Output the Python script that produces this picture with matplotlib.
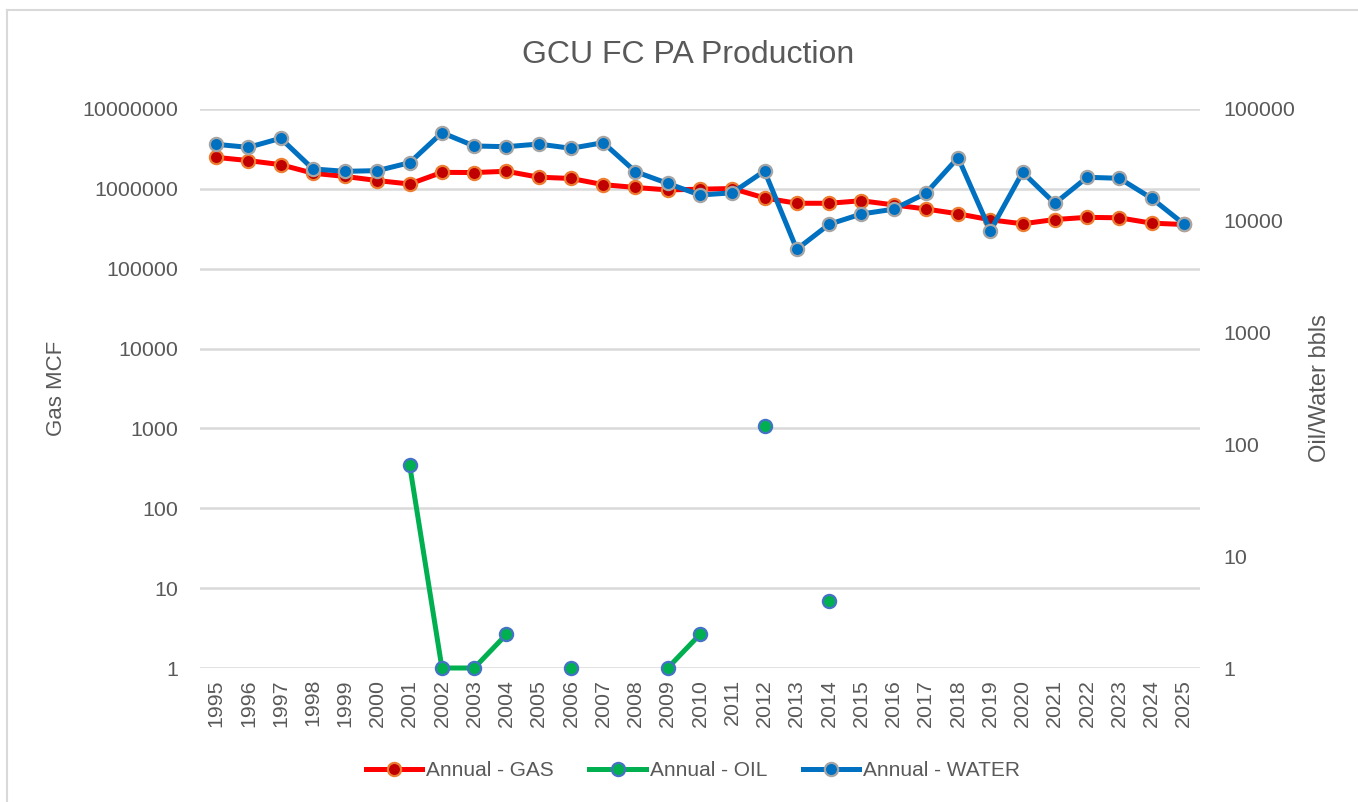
"""Recreate the GCU FC PA Production chart (Excel-style, dual log axes)."""

import matplotlib

matplotlib.use("Agg")
import matplotlib.pyplot as plt
import numpy as np
from matplotlib.lines import Line2D
from matplotlib.ticker import FixedLocator, FuncFormatter, NullLocator

plt.rcParams["font.family"] = ["Liberation Sans", "DejaVu Sans"]

years = list(range(1995, 2026))

# Gas, MCF (primary axis)
gas = [
    2480000, 2260000, 2010000, 1570000, 1430000, 1270000, 1150000, 1610000,
    1600000, 1660000, 1400000, 1350000, 1130000, 1040000, 970000, 990000,
    1010000, 770000, 660000, 660000, 710000, 630000, 560000, 487000,
    410000, 365000, 413000, 440000, 434000, 372000, 358000,
]

# Oil, bbls (secondary axis); nan = no production, nothing plotted
nan = np.nan
oil = [
    nan, nan, nan, nan, nan, nan, 65, 1, 1, 2, nan, 1, nan, nan, 1, 2,
    nan, 147, nan, 4, nan, nan, nan, nan, nan, nan, nan, nan, nan, nan, nan,
]

# Water, bbls (secondary axis)
water = [
    48300, 45400, 54700, 29100, 27700, 28100, 33100, 61400, 46700, 46000,
    48600, 44500, 50000, 27500, 21600, 17000, 17800, 27900, 5560, 9300,
    11500, 12700, 17600, 36700, 8160, 27200, 14300, 24500, 24000, 15900,
    9360,
]

TEXT = "#595959"
GRID = "#D9D9D9"
W, H = 1358, 802

fig = plt.figure(figsize=(W / 100, H / 100), dpi=100)
ax = fig.add_axes([200 / W, 1 - 668 / H, 1000 / W, 559 / H])
ax2 = ax.twinx()

x = np.arange(len(years))
style = dict(lw=3.6, marker="o", ms=9.5, mew=1.6)
ax.plot(x, gas, color="#FF0000", mfc="#C00000", mec="#ED7D31",
        clip_on=False, **style)
ax2.plot(x, oil, color="#00B050", mfc="#00B050", mec="#4472C4",
         clip_on=False, **style)
ax2.plot(x, water, color="#0070C0", mfc="#0070C0", mec="#A5A5A5",
         clip_on=False, **style)

fmt = FuncFormatter(lambda v, _: f"{int(round(v))}")
for a, top in ((ax, 7), (ax2, 5)):
    a.set_yscale("log")
    a.set_ylim(1, 10 ** top)
    a.yaxis.set_major_locator(FixedLocator([10 ** k for k in range(top + 1)]))
    a.yaxis.set_minor_locator(NullLocator())
    a.yaxis.set_major_formatter(fmt)
    a.tick_params(axis="y", length=0, labelsize=15.4, colors=TEXT)
    for s in a.spines.values():
        s.set_visible(False)

ax.tick_params(axis="y", pad=16)
ax2.tick_params(axis="y", pad=16.5)
ax.grid(axis="y", color=GRID, lw=1.8)
ax.set_axisbelow(True)
ax.set_xlim(-0.5, len(years) - 0.5)
ax.set_xticks(x)
ax.set_xticklabels([str(y) for y in years], rotation=90)
ax.tick_params(axis="x", length=0, labelsize=15.4, colors=TEXT, pad=8)

fig.text(688 / W, 1 - 55 / H, "GCU FC PA Production", ha="center",
         va="center", fontsize=23, color=TEXT)
fig.text(57 / W, 1 - 388 / H, "Gas MCF", rotation=90, ha="center",
         va="center", fontsize=16, color=TEXT)
fig.text(1320 / W, 1 - 388 / H, "Oil/Water bbls", rotation=90, ha="center",
         va="center", fontsize=17, color=TEXT)

handles = [
    Line2D([], [], color="#FF0000", mfc="#C00000", mec="#ED7D31", **style),
    Line2D([], [], color="#00B050", mfc="#00B050", mec="#4472C4", **style),
    Line2D([], [], color="#0070C0", mfc="#0070C0", mec="#A5A5A5", **style),
]
labels = ["Annual - GAS", "Annual - OIL", "Annual - WATER"]
fig.legend(handles, labels, loc="center", ncol=3,
           bbox_to_anchor=(693 / W, 1 - 771 / H), frameon=False,
           fontsize=15, handlelength=2.7, handletextpad=0.2,
           columnspacing=1.7, labelcolor=TEXT)

# chart area border (left and top edges are visible in the reference)
fig.add_artist(Line2D([7 / W, 7 / W], [0, 1 - 10 / H], color=GRID, lw=1.5))
fig.add_artist(Line2D([7 / W, 1], [1 - 10 / H, 1 - 10 / H], color=GRID, lw=1.5))

fig.savefig("out.png", dpi=100)
